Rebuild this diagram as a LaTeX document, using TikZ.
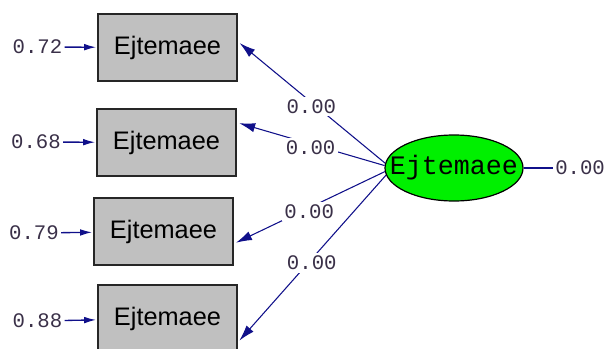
\documentclass[tikz,border=0pt]{standalone}
\usepackage{fontspec}
\setmainfont{Liberation Sans}
\setmonofont{Liberation Mono}
\usetikzlibrary{arrows.meta,shapes.geometric}
\definecolor{pathblue}{HTML}{10108A}
\definecolor{boxgray}{HTML}{C0C0C0}
\definecolor{latgreen}{HTML}{00F000}
\definecolor{numtext}{HTML}{3A3048}

\begin{document}
\begin{tikzpicture}[
			x=0.75pt, y=-0.75pt,
			>={Latex[length=12pt,width=7pt]},
			obs/.style={
				rectangle,
				draw=black!85,
				line width=1.1pt,
				fill=boxgray,
				minimum width=104pt,
				minimum height=50pt,
				inner sep=0pt,
				font=\fontsize{19}{22}\selectfont
			},
			latent/.style={
				ellipse,
				draw=black,
				line width=0.9pt,
				fill=latgreen,
				minimum width=103.5pt,
				minimum height=49.5pt,
				inner sep=0pt
			},
			num/.style={
				inner sep=1.5pt,
				text=numtext,
				font=\ttfamily\fontsize{15.5}{18}\selectfont
			},
			coef/.style={
				num,
				fill=white,
				inner sep=2pt,
				yshift=-3pt
			},
			path/.style={
				draw=pathblue,
				line width=0.8pt
			},
			errpath/.style={
				draw=pathblue,
				line width=1pt,
				shorten >=1pt,
				-{Latex[length=9pt,width=5pt]}
			}
			]
			\clip (0,0) rectangle (609,349);
			\useasboundingbox (0,0) rectangle (609,349);
			
			% We start by placing the blocks
			\node [obs] (y1) at (167.5,47.5) {Ejtemaee};
			\node [obs] (y2) at (166.5,142.5) {Ejtemaee};
			\node [obs] (y3) at (163.5,231.5) {Ejtemaee};
			\node [obs] (y4) at (167.5,318.5) {Ejtemaee};
			
			\node [latent, label={[font=\ttfamily\fontsize{20}{24}\selectfont]center:Ejtemaee}] (eta) at (454,168) {};
			
			% error terms
			\node [num] (e1) at (37.5,47) {0.72};
			\node [num] (e2) at (36,142) {0.68};
			\node [num] (e3) at (34,233) {0.79};
			\node [num] (e4) at (37.5,321) {0.88};
			\node [num, anchor=west] (psi) at (553,168) {0.00};
			
			\draw [errpath] (e1) -- (y1);
			\draw [errpath] (e2) -- (y2);
			\draw [errpath] (e3) -- (y3);
			\draw [errpath] (e4) -- (y4);
			
			% loadings
			\draw [path,->,shorten >=2pt] (eta.176) -- node [coef] {0.00} (y1.5);
			\draw [path,->,shorten >=2pt] (eta.178) -- node [coef] {0.00} (y2.16);
			\draw [path,->,shorten >=2pt] (eta.183) -- node [coef] {0.00} (y3.-10);
			\draw [path,->,shorten >=2pt] (eta.186) -- node [coef] {0.00} (y4.-19);
			\draw [path] (eta) -- (psi);
			
			\end{tikzpicture}
\end{document}
